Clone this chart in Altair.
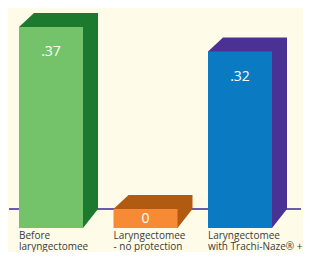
import altair as alt
import pandas as pd

# ---- data ----
categories = ["Before\nlaryngectomee", "Laryngectomee\n- no protection", "Laryngectomee\nwith Trachi-Naze® +Plus"]
values = [0.37, 0.0, 0.32]
labels = [".37", "0", ".32"]

# ---- styling ----
front_colors = ["#74c36b", "#f68a35", "#0a7bc2"]
dark_colors = ["#1c7a2f", "#b15b12", "#4a3295"]
bg = "#fefbe9"

W, H = 295, 244
PX_X = 94.5     # pixels per category step
PX_Y = 492.0    # pixels per unit value
x0_px = 43      # centre of first bar (px)
base_px = 201   # baseline (px from top)
xmin = -x0_px / PX_X
xmax = xmin + W / PX_X
ymax = base_px / PX_Y
ymin = -(H - base_px) / PX_Y
hw = 32 / PX_X
ddx = 15 / PX_X
ddy = 14 / PX_Y
bottom = -19 / PX_Y

front_rows, dark_rows, lab_rows, cat_rows = [], [], [], []
for i, (c, v, l) in enumerate(zip(categories, values, labels)):
    front_rows.append(dict(key=f"f{i}", x=i - hw, x2=i + hw, y=v, y2=bottom))
    xs = [i - hw, i - hw + ddx, i + hw, i + hw + ddx]
    ys = [v, v + ddy, v + ddy, v + ddy]
    y2s = [v, bottom, bottom, 0.0]
    for a, b, b2 in zip(xs, ys, y2s):
        dark_rows.append(dict(key=f"d{i}", x=a, y=b, y2=b2))
    ly = v - 25 / PX_Y if v > 0 else bottom / 2
    lab_rows.append(dict(x=float(i), y=ly, text=l))
    cat_rows.append(dict(x=i - hw, text=c))

front = pd.DataFrame(front_rows)
dark = pd.DataFrame(dark_rows)
labs = pd.DataFrame(lab_rows)
cats = pd.DataFrame(cat_rows)

keys = [f"f{i}" for i in range(3)] + [f"d{i}" for i in range(3)]
cscale = alt.Scale(domain=keys, range=front_colors + dark_colors)
xs_ = alt.Scale(domain=[xmin, xmax], nice=False, zero=False)
ys_ = alt.Scale(domain=[ymin, ymax], nice=False, zero=False)

baseline = alt.Chart(pd.DataFrame({"y": [0.0]})).mark_rule(
    color="#6a5ab0", strokeWidth=2
).encode(x=alt.value(1), x2=alt.value(293), y=alt.Y("y:Q", scale=ys_, axis=None))

dark_layer = alt.Chart(dark).mark_area(interpolate="linear").encode(
    x=alt.X("x:Q", scale=xs_, axis=None),
    y=alt.Y("y:Q", scale=ys_, axis=None),
    y2="y2:Q",
    color=alt.Color("key:N", scale=cscale, legend=None),
    detail="key:N",
)

front_layer = alt.Chart(front).mark_rect().encode(
    x=alt.X("x:Q", scale=xs_, axis=None),
    x2="x2:Q",
    y=alt.Y("y:Q", scale=ys_, axis=None),
    y2="y2:Q",
    color=alt.Color("key:N", scale=cscale, legend=None),
)

val_text = alt.Chart(labs).mark_text(
    color="white", fontSize=14, font="Open Sans", baseline="middle", align="center"
).encode(
    x=alt.X("x:Q", scale=xs_, axis=None),
    y=alt.Y("y:Q", scale=ys_, axis=None),
    text="text:N",
)

cat_text = alt.Chart(cats).mark_text(
    color="#3a3a3a", fontSize=10, font="Open Sans", baseline="alphabetic",
    align="left", lineBreak="\n", lineHeight=11
).encode(
    x=alt.X("x:Q", scale=xs_, axis=None),
    y=alt.value(230.5),
    text="text:N",
)

chart = alt.layer(baseline, dark_layer, front_layer, val_text, cat_text).properties(
    width=W, height=H, padding=0,
    autosize=alt.AutoSizeParams(type="none"),
    background=bg,
).configure_view(stroke=None)

chart.save("out.html", embed_options={"renderer": "svg", "actions": False})
